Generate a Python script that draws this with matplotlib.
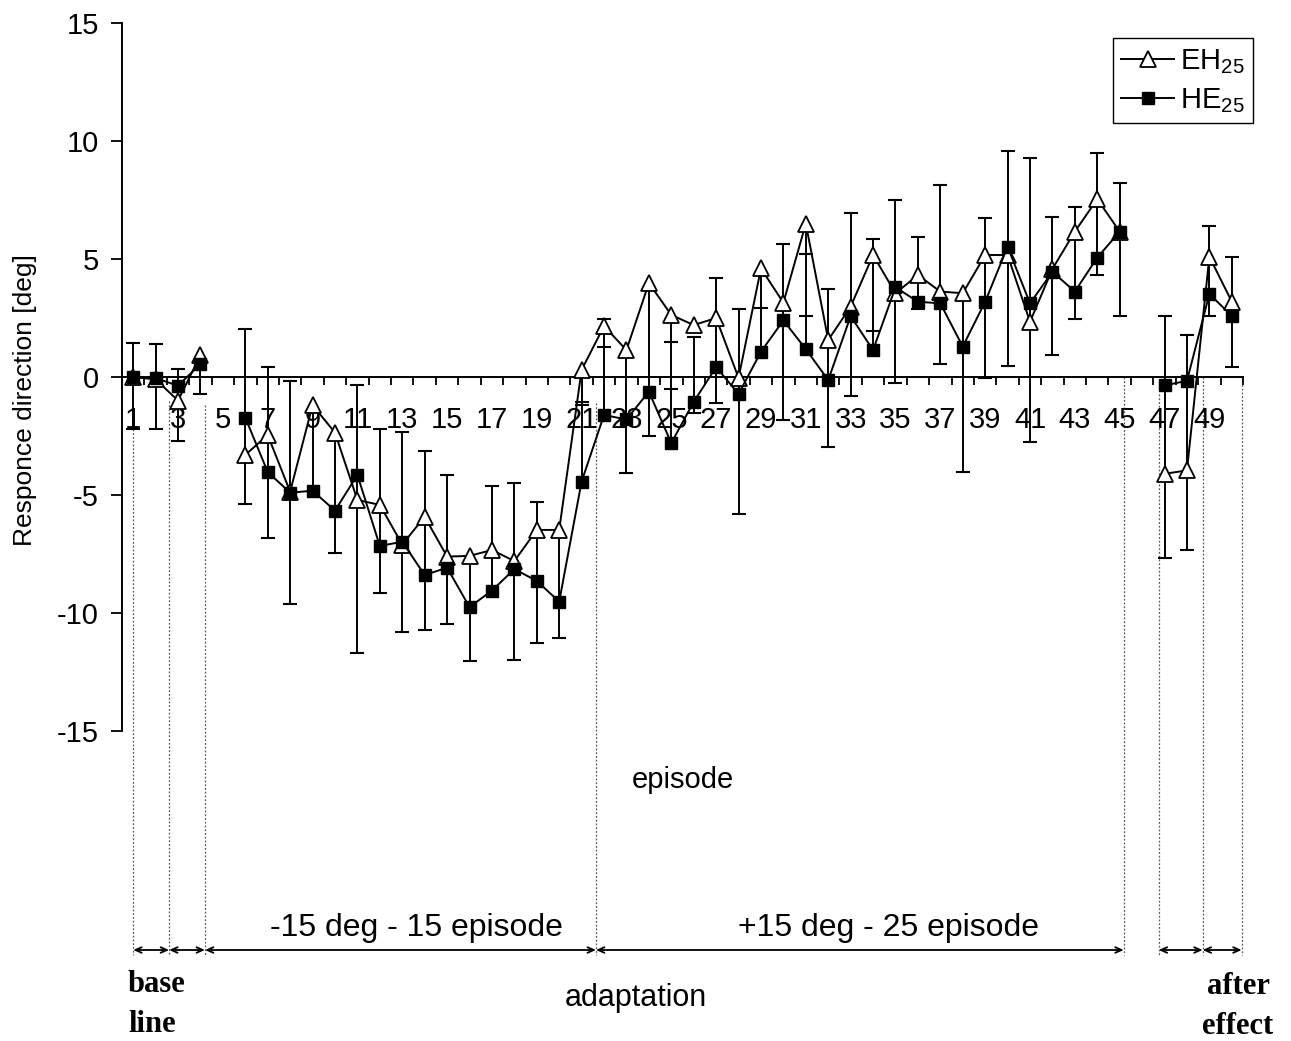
import numpy as np
import matplotlib
matplotlib.use("Agg")
import matplotlib.pyplot as plt

plt.rcParams['font.family'] = ['Liberation Sans', 'DejaVu Sans']
plt.rcParams['axes.unicode_minus'] = False

# ---------------- data ----------------
episodes = np.arange(1, 51)
nan = np.nan
eh25 = [0.0, -0.1, -1.0, 0.93, nan, -3.3, -2.46, -4.86, -1.19, -2.36,
        -5.21, -5.42, -7.1, -5.92, -7.61, -7.58, -7.33, -7.8, -6.48, -6.48,
        0.3, 2.16, 1.14, 3.98, 2.63, 2.2, 2.5, -0.04, 4.6, 3.15,
        6.5, 1.57, 2.98, 5.17, 3.55, 4.32, 3.62, 3.55, 5.17, 5.17,
        2.34, 4.58, 6.16, 7.54, 6.16, nan, -4.1, -3.96, 5.1, 3.19]
he25 = [0.0, -0.05, -0.37, 0.55, nan, -1.72, -4.03, -4.9, -4.82, -5.66,
        -4.15, -7.16, -6.98, -8.39, -8.08, -9.75, -9.05, -8.14, -8.64, -9.52,
        -4.43, -1.61, -1.8, -0.62, -2.8, -1.05, 0.42, -0.72, 1.07, 2.4,
        1.18, -0.13, 2.58, 1.14, 3.8, 3.19, 3.12, 1.29, 3.19, 5.52,
        3.12, 4.46, 3.62, 5.06, 6.16, nan, -0.36, -0.16, 3.52, 2.59]

# error bar extents per episode
bar_lo = [-2.2, -2.2, -2.7, -0.72, nan, -5.38, -6.82, -9.6, -4.82, -7.47,
          -11.68, -9.15, -10.8, -10.72, -10.47, -12.03, -9.05, -12.0, -11.28, -11.05,
          -4.43, -1.61, -4.05, -2.49, -2.8, -1.53, -1.1, -5.8, 1.07, -1.82,
          1.18, -2.95, -0.8, 1.14, -0.24, 2.88, 0.54, -4.04, -0.06, 0.47,
          -2.74, 0.93, 2.46, 4.32, 2.58, nan, -7.67, -7.35, 2.59, 0.41]
bar_hi = [1.45, 1.4, 0.33, 0.93, nan, 2.03, 0.44, -0.17, -1.19, -2.36,
          -0.34, -2.2, -2.33, -3.12, -4.15, -7.58, -4.6, -4.5, -5.28, -6.48,
          0.3, 2.44, 1.14, 3.98, 2.63, 1.71, 4.2, 2.88, 4.6, 5.63,
          6.5, 3.72, 6.93, 5.83, 7.5, 5.92, 8.14, 3.55, 6.75, 9.59,
          9.27, 6.79, 7.19, 9.5, 8.2, nan, 2.59, 1.78, 6.4, 5.1]
# visible error-bar caps
cap_episode = [1, 1, 2, 2, 3, 3, 4, 6, 6, 7, 7, 8, 8, 10, 11, 11, 12, 12, 13, 13,
               14, 14, 15, 15, 16, 17, 18, 18, 19, 19, 20, 21, 21, 22, 22, 23, 24,
               25, 25, 26, 26, 27, 27, 28, 28, 29, 30, 30, 31, 31, 32, 32, 33, 33,
               34, 34, 35, 35, 36, 36, 37, 37, 38, 39, 39, 40, 40, 41, 41, 42, 42,
               43, 43, 44, 44, 45, 45, 47, 47, 48, 48, 49, 49, 50, 50]
cap_value = [1.45, -2.2, 1.4, -2.2, 0.33, -2.7, -0.72, 2.03, -5.38, 0.44, -6.82,
             -0.17, -9.6, -7.47, -0.34, -11.68, -2.2, -9.15, -2.33, -10.8,
             -3.12, -10.72, -4.15, -10.47, -12.03, -4.6, -4.5, -12.0, -5.28, -11.28,
             -11.05, -1.05, -1.19, 2.44, 1.28, -4.05, -2.49,
             1.48, -0.5, 1.71, -1.53, 4.2, -1.1, 2.88, -5.8, 2.92, 5.63, -1.82,
             5.2, 2.6, 3.72, -2.95, 6.93, -0.8,
             5.83, 1.95, 7.5, -0.24, 5.92, 2.88, 8.14, 0.54, -4.04, 6.75, -0.06,
             9.59, 0.47, 9.27, -2.74, 6.79, 0.93,
             7.19, 2.46, 9.5, 4.32, 8.2, 2.58, 2.59, -7.67, 1.78, -7.35,
             6.4, 2.59, 5.1, 0.41]

series_labels = [r'EH$_{\mathregular{25}}$', r'HE$_{\mathregular{25}}$']
y_ticks = [-15, -10, -5, 0, 5, 10, 15]
x_tick_labels = list(range(1, 50, 2))

# ---------------- figure ----------------
W, H = 1291, 1041
fig = plt.figure(figsize=(W / 100, H / 100), dpi=100)

def fx(px):
    return px / W

def fy(py):
    return 1 - py / H

ax = fig.add_axes([fx(122), fy(731), fx(1243) - fx(122), fy(23) - fy(731)])
ax.set_xlim(0.5, 50.5)
ax.set_ylim(-15, 15)

for s in ['top', 'right']:
    ax.spines[s].set_visible(False)
ax.spines['bottom'].set_position(('data', 0))
ax.spines['bottom'].set_linewidth(1.4)
ax.spines['left'].set_linewidth(1.4)

ax.set_xticks(x_tick_labels)
ax.set_xticklabels([str(v) for v in x_tick_labels])
ax.set_xticks(np.arange(0.5, 51, 1), minor=True)
ax.tick_params(axis='x', which='major', length=0, pad=21, labelsize=21)
ax.tick_params(axis='x', which='minor', length=6, width=1.3, direction='out')
ax.set_yticks(y_ticks)
ax.tick_params(axis='y', length=8, width=1.3, direction='out', pad=8.5, labelsize=21)

ax.set_ylabel('Responce direction [deg]', fontsize=19)
ax.yaxis.set_label_coords(-0.076, 0.467)

# error bars
ax.vlines(episodes, bar_lo, bar_hi, colors='k', lw=1.4, zorder=2)
ax.plot(cap_episode, cap_value, ls='none', marker='_', ms=9.5, mew=1.5,
        color='k', zorder=2)

# series
ax.plot(episodes, eh25, '-', color='k', lw=1.4, marker='^', ms=11,
        mfc='white', mec='k', mew=1.3, zorder=3, label=series_labels[0])
ax.plot(episodes, he25, '-', color='k', lw=1.4, marker='s', ms=8.5,
        mfc='k', mec='k', zorder=4, label=series_labels[1])

leg = ax.legend(loc='upper right', bbox_to_anchor=(fx(1253), fy(38)),
                bbox_transform=fig.transFigure, frameon=True, fancybox=False,
                edgecolor='k', framealpha=1, fontsize=21, handlelength=1.8,
                handletextpad=0.2, borderpad=0.3, labelspacing=0.35,
                borderaxespad=0)
leg.get_frame().set_linewidth(1.0)

# x label
fig.text(fx(683), fy(780), 'episode', ha='center', va='center', fontsize=21)

# ---------------- phase annotations ----------------
div_x = [1.0, 2.6, 4.2, 21.64, 45.18, 46.74, 48.7, 50.44]
div_start = [-2.2, -1.0, -1.2, -1.1, 0.0, -0.7, 0.0, 0.0]
y_end = -24.5
for xv, ys in zip(div_x, div_start):
    ax.plot([xv, xv], [ys, y_end], ls=(0, (1.5, 1.5)), color='0.35', lw=0.9,
            clip_on=False, zorder=1)

y_arrow = -24.28
arrow_spans = [(1.0, 2.6), (2.6, 4.2), (4.2, 21.64), (21.64, 45.18),
               (46.74, 48.7), (48.7, 50.44)]
for x1, x2 in arrow_spans:
    ax.annotate('', xy=(x2, y_arrow), xytext=(x1, y_arrow),
                arrowprops=dict(arrowstyle='<->,head_length=0.45,head_width=0.2',
                                lw=1.3, color='k', shrinkA=0, shrinkB=0),
                annotation_clip=False)

fig.text(fx(416), fy(928), '-15 deg - 15 episode', ha='center', va='center', fontsize=23)
fig.text(fx(889), fy(928), '+15 deg - 25 episode', ha='center', va='center', fontsize=23)
fig.text(fx(636), fy(998), 'adaptation', ha='center', va='center', fontsize=22)

serif = dict(family=['Liberation Serif', 'DejaVu Serif'], fontsize=22, weight='bold')
fig.text(fx(128), fy(985), 'base', ha='left', va='center', **serif)
fig.text(fx(128), fy(1025), 'line', ha='left', va='center', **serif)
fig.text(fx(1238), fy(986), 'after', ha='center', va='center', **serif)
fig.text(fx(1238), fy(1026), 'effect', ha='center', va='center', **serif)

fig.savefig('out.png', dpi=100)
